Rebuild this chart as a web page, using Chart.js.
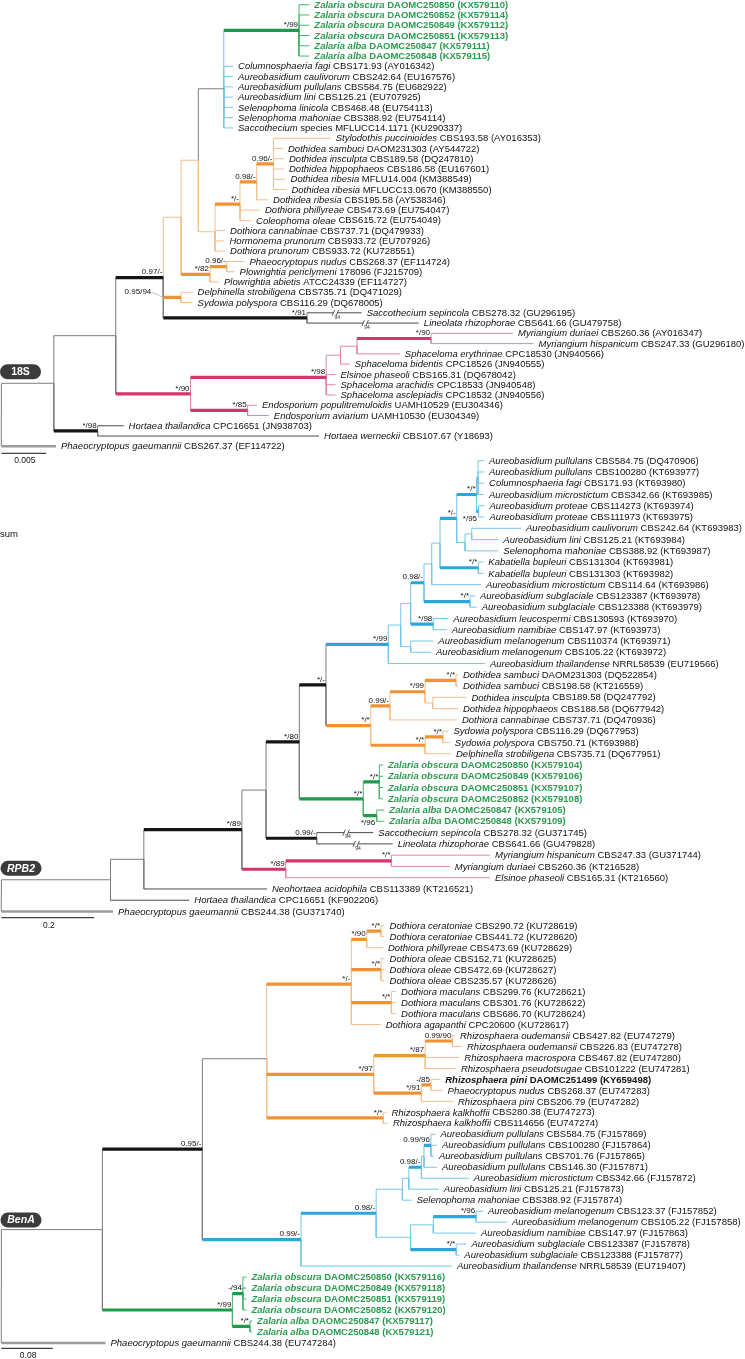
<!DOCTYPE html>
<html>
<head>
<meta charset="utf-8">
<title>Phylogenetic trees: 18S, RPB2, BenA</title>
<script src="https://cdn.jsdelivr.net/npm/chart.js@4.4.1/dist/chart.umd.min.js"></script>
<style>
html,body{margin:0;padding:0;background:#fff;}
#box{position:relative;width:745px;height:1359px;overflow:hidden;}
canvas{display:block;}
</style>
</head>
<body>
<div id="box"><canvas id="tree" width="745" height="1359"></canvas></div>
<script>
// ================= 18S =================
// taxon label: "italic part|roman part"
const taxa18S = [
"Zalaria obscura|DAOMC250850 (KX579110)","Zalaria obscura|DAOMC250852 (KX579114)",
"Zalaria obscura|DAOMC250849 (KX579112)","Zalaria obscura|DAOMC250851 (KX579113)",
"Zalaria alba|DAOMC250847 (KX579111)","Zalaria alba|DAOMC250848 (KX579115)",
"Columnosphaeria fagi|CBS171.93 (AY016342)","Aureobasidium caulivorum|CBS242.64 (EU167576)",
"Aureobasidium pullulans|CBS584.75 (EU682922)","Aureobasidium lini|CBS125.21 (EU707925)",
"Selenophoma linicola|CBS468.48 (EU754113)","Selenophoma mahoniae|CBS388.92 (EU754114)",
"Saccothecium|species MFLUCC14.1171 (KU290337)","Stylodothis puccinioides|CBS193.58 (AY016353)",
"Dothidea sambuci|DAOM231303 (AY544722)","Dothidea insculpta|CBS189.58 (DQ247810)",
"Dothidea hippophaeos|CBS186.58 (EU167601)","Dothidea ribesia|MFLU14.004 (KM388549)",
"Dothidea ribesia|MFLUCC13.0670 (KM388550)","Dothidea ribesia|CBS195.58 (AY538346)",
"Dothiora phillyreae|CBS473.69 (EU754047)","Coleophoma oleae|CBS615.72 (EU754049)",
"Dothiora cannabinae|CBS737.71 (DQ479933)","Hormonema prunorum|CBS933.72 (EU707926)",
"Dothiora prunorum|CBS933.72 (KU728551)","Phaeocryptopus nudus|CBS268.37 (EF114724)",
"Plowrightia periclymeni|178096 (FJ215709)","Plowrightia abietis|ATCC24339 (EF114727)",
"Delphinella strobiligena|CBS735.71 (DQ471029)","Sydowia polyspora|CBS116.29 (DQ678005)",
"Saccothecium sepincola|CBS278.32 (GU296195)","Lineolata rhizophorae|CBS641.66 (GU479758)",
"Myriangium duriaei|CBS260.36 (AY016347)","Myriangium hispanicum|CBS247.33 (GU296180)",
"Sphaceloma erythrinae|CPC18530 (JN940566)","Sphaceloma bidentis|CPC18526 (JN940555)",
"Elsinoe phaseoli|CBS165.31 (DQ678042)","Sphaceloma arachidis|CPC18533 (JN940548)",
"Sphaceloma asclepiadis|CPC18532 (JN940556)","Endosporium populitremuloidis|UAMH10529 (EU304346)",
"Endosporium aviarium|UAMH10530 (EU304349)","Hortaea thailandica|CPC16651 (JN938703)",
"Hortaea werneckii|CBS107.67 (Y18693)","Phaeocryptopus gaeumannii|CBS267.37 (EF114722)"
];
const tipParent18S = [8,8,8,8,8,8, 7,7,7,7,7,7,7, 12,12,12,12,12,12, 11, 10,10, 9,9,9, 14,14, 13, 15,15, 16,16, 21,21, 20, 19, 18,18,18, 22,22, 2,2, 0];
// distance from root (substitutions per site)
const tipDepth18S = [0.03437,0.03437,0.03437,0.03437,0.03437,0.03437,
 0.02585,0.02585,0.02585,0.02585,0.02585,0.02585,0.02585,
 0.03675,0.03143,0.03154,0.03154,0.03171,0.03181,0.02976,0.02886,0.02786,
 0.02496,0.02490,0.02496,0.02713,0.02602,0.02429,0.02134,0.02134,
 0.04021,0.04659,0.05710,0.05939,0.04447,0.03889,0.03729,0.03729,0.03729,
 0.02853,0.02985,0.01364,0.03545,0.00609];
// clades: Z = Zalaria, A = Aureobasidium group, D = Dothioraceae, E = Elsinoaceae/Myriangiaceae, '' = other
const tipClade18S = ['Z','Z','Z','Z','Z','Z','A','A','A','A','A','A','A',
 'D','D','D','D','D','D','D','D','D','D','D','D','D','D','D','D','D',
 '','','E','E','E','E','E','E','E','E','E','','',''];
const nodeParent18S = [-1,0,1,1,3,4,5,6,7,6,9,10,11,5,13,4,4,3,17,18,19,20,17];
const nodeDepth18S = [0,0.00585,0.01074,0.01276,0.01807,0.02005,0.02198,0.02482,0.03322,0.02384,
 0.02663,0.02849,0.03037,0.02328,0.02515,0.02005,0.03411,0.02111,0.03625,0.03785,0.03969,0.04795,0.02748];
const nodeSupport18S = ['','','*/98','','0.97/-','','','','*/99','','*/-','0.98/-','0.96/-','*/82',
 '0.96/-','0.95/94','*/91','*/90','*/98','','','*/90','*/85'];
const nodeClade18S = ['','','','','','D','D','','Z','D','D','D','D','D','D','D','','E','E','E','E','E','E'];
const crownClade18S = ['','','','','','D','D','A','Z','D','D','D','D','D','D','D','','E','E','E','E','E','E'];
const newIsolates18S = [0,1,2,3,4,5];
const truncated18S = [30,31];
const scaleBar18S = 0.005;

// ================= RPB2 =================
const taxaRPB2 = [
"Aureobasidium pullulans|CBS584.75 (DQ470906)","Aureobasidium pullulans|CBS100280 (KT693977)",
"Columnosphaeria fagi|CBS171.93 (KT693980)","Aureobasidium microstictum|CBS342.66 (KT693985)",
"Aureobasidium proteae|CBS114273 (KT693974)","Aureobasidium proteae|CBS111973 (KT693975)",
"Aureobasidium caulivorum|CBS242.64 (KT693983)","Aureobasidium lini|CBS125.21 (KT693984)",
"Selenophoma mahoniae|CBS388.92 (KT693987)","Kabatiella bupleuri|CBS131304 (KT693981)",
"Kabatiella bupleuri|CBS131303 (KT693982)","Aureobasidium microstictum|CBS114.64 (KT693986)",
"Aureobasidium subglaciale|CBS123387 (KT693978)","Aureobasidium subglaciale|CBS123388 (KT693979)",
"Aureobasidium leucospermi|CBS130593 (KT693970)","Aureobasidium namibiae|CBS147.97 (KT693973)",
"Aureobasidium melanogenum|CBS110374 (KT693971)","Aureobasidium melanogenum|CBS105.22 (KT693972)",
"Aureobasidium thailandense|NRRL58539 (EU719566)","Dothidea sambuci|DAOM231303 (DQ522854)",
"Dothidea sambuci|CBS198.58 (KT216559)","Dothidea insculpta|CBS189.58 (DQ247792)",
"Dothidea hippophaeos|CBS188.58 (DQ677942)","Dothiora cannabinae|CBS737.71 (DQ470936)",
"Sydowia polyspora|CBS116.29 (DQ677953)","Sydowia polyspora|CBS750.71 (KT693988)",
"Delphinella strobiligena|CBS735.71 (DQ677951)","Zalaria obscura|DAOMC250850 (KX579104)",
"Zalaria obscura|DAOMC250849 (KX579106)","Zalaria obscura|DAOMC250851 (KX579107)",
"Zalaria obscura|DAOMC250852 (KX579108)","Zalaria alba|DAOMC250847 (KX579105)",
"Zalaria alba|DAOMC250848 (KX579109)","Saccothecium sepincola|CBS278.32 (GU371745)",
"Lineolata rhizophorae|CBS641.66 (GU479828)","Myriangium hispanicum|CBS247.33 (GU371744)",
"Myriangium duriaei|CBS260.36 (KT216528)","Elsinoe phaseoli|CBS165.31 (KT216560)",
"Neohortaea acidophila|CBS113389 (KT216521)","Hortaea thailandica|CPC16651 (KF902206)",
"Phaeocryptopus gaeumannii|CBS244.38 (GU371740)"
];
const tipParentRPB2 = [15,15,15,15,16,16,18,18,17,19,19,11,20,20,21,21,22,22,7,26,26,27,27,24,29,29,28,31,31,31,31,32,32,33,33,35,35,34,2,1,0];
const tipDepthRPB2 = [1.0390,1.0390,1.0390,1.0390,1.0401,1.0401,1.1187,1.0698,1.0698,1.0375,1.0375,1.0325,
 1.0196,1.0233,0.9621,0.9587,0.9298,0.9249,1.0411,0.9830,0.9830,1.0011,0.9828,0.9806,0.9626,0.9654,0.9679,
 0.8216,0.8216,0.8216,0.8216,0.8244,0.8244,0.8007,0.8424,1.0519,0.9654,1.0519,0.5718,0.4045,0.2403];
const tipCladeRPB2 = ['A','A','A','A','A','A','A','A','A','A','A','A','A','A','A','A','A','A','A',
 'D','D','D','D','D','D','D','D','Z','Z','Z','Z','Z','Z','','','E','E','E','','',''];
const nodeParentRPB2 = [-1,0,1,2,3,4,5,6,7,8,9,10,11,12,13,14,14,13,17,12,10,9,8,6,23,24,25,25,23,28,5,30,30,4,3,34];
const nodeDepthRPB2 = [0,0.2349,0.3066,0.5178,0.5697,0.6414,0.6988,0.8330,0.8597,0.8812,0.9098,0.9264,0.9443,
 0.9802,1.0228,1.0261,1.0272,0.9981,1.0125,1.0267,1.0089,0.9298,0.8812,0.7951,0.8366,0.9120,0.9787,0.9286,
 0.9120,0.9505,0.7791,0.8136,0.8080,0.6788,0.6121,0.8396];
const nodeSupportRPB2 = ['','','','*/89','','*/80','*/-','*/99','','','0.98/-','','','*/-','*/*','','*/95','','',
 '*/*','*/*','*/98','','*/*','0.99/-','*/99','*/*','','*/*','*/*','*/*','*/*','*/96','0.99/-','*/89','*/*'];
const nodeCladeRPB2 = ['','','','','','','','A','A','A','A','A','A','A','A','A','A','A','A','A','A','A','A',
 'D','D','D','D','D','D','D','Z','Z','Z','','E','E'];
const crownCladeRPB2 = nodeCladeRPB2.slice();
const newIsolatesRPB2 = [27,28,29,30,31,32];
const truncatedRPB2 = [33,34];
const scaleBarRPB2 = 0.2;

// ================= BenA =================
const taxaBenA = [
"Dothiora ceratoniae|CBS290.72 (KU728619)","Dothiora ceratoniae|CBS441.72 (KU728620)",
"Dothiora phillyreae|CBS473.69 (KU728629)","Dothiora oleae|CBS152.71 (KU728625)",
"Dothiora oleae|CBS472.69 (KU728627)","Dothiora oleae|CBS235.57 (KU728626)",
"Dothiora maculans|CBS299.76 (KU728621)","Dothiora maculans|CBS301.76 (KU728622)",
"Dothiora maculans|CBS686.70 (KU728624)","Dothiora agapanthi|CPC20600 (KU728617)",
"Rhizosphaera oudemansii|CBS427.82 (EU747279)","Rhizosphaera oudemansii|CBS226.83 (EU747278)",
"Rhizosphaera macrospora|CBS467.82 (EU747280)","Rhizosphaera pseudotsugae|CBS101222 (EU747281)",
"Rhizosphaera pini|DAOMC251499 (KY659498)","Phaeocryptopus nudus|CBS268.37 (EU747283)",
"Rhizosphaera pini|CBS206.79 (EU747282)","Rhizosphaera kalkhoffii|CBS280.38 (EU747273)",
"Rhizosphaera kalkhoffii|CBS114656 (EU747274)","Aureobasidium pullulans|CBS584.75 (FJ157869)",
"Aureobasidium pullulans|CBS100280 (FJ157864)","Aureobasidium pullulans|CBS701.76 (FJ157865)",
"Aureobasidium pullulans|CBS146.30 (FJ157871)","Aureobasidium microstictum|CBS342.66 (FJ157872)",
"Aureobasidium lini|CBS125.21 (FJ157873)","Selenophoma mahoniae|CBS388.92 (FJ157874)",
"Aureobasidium melanogenum|CBS123.37 (FJ157852)","Aureobasidium melanogenum|CBS105.22 (FJ157858)",
"Aureobasidium namibiae|CBS147.97 (FJ157863)","Aureobasidium subglaciale|CBS123387 (FJ157878)",
"Aureobasidium subglaciale|CBS123388 (FJ157877)","Aureobasidium thailandense|NRRL58539 (EU719407)",
"Zalaria obscura|DAOMC250850 (KX579116)","Zalaria obscura|DAOMC250849 (KX579118)",
"Zalaria obscura|DAOMC250851 (KX579119)","Zalaria obscura|DAOMC250852 (KX579120)",
"Zalaria alba|DAOMC250847 (KX579117)","Zalaria alba|DAOMC250848 (KX579121)",
"Phaeocryptopus gaeumannii|CBS244.38 (EU747284)"
];
const tipParentBenA = [6,6,5,7,7,7,8,8,8,4,11,11,10,10,13,13,12,14,14,19,19,19,28,18,27,17,22,22,21,23,23,15,25,25,25,25,26,26,0];
const tipDepthBenA = [0.5963,0.5963,0.5939,0.5963,0.5963,0.5963,0.6142,0.6142,0.6142,0.5903,0.7060,0.7169,
 0.7127,0.7075,0.6830,0.6867,0.7029,0.5992,0.6016,0.6756,0.6780,0.6733,0.6780,0.7275,0.6808,0.6386,0.7496,
 0.7869,0.7387,0.7237,0.7127,0.7013,0.3813,0.3813,0.3813,0.3813,0.3902,0.3902,0.1620];
const tipCladeBenA = ['D','D','D','D','D','D','D','D','D','D','D','D','D','D','D','D','D','D','D',
 'A','A','A','A','A','A','A','A','A','A','A','A','A','Z','Z','Z','Z','Z','Z',''];
const nodeParentBenA = [-1,0,1,2,3,4,5,4,4,3,9,10,9,12,3,2,15,16,27,28,16,20,21,20,1,24,24,17,18];
const nodeDepthBenA = [0,0.1572,0.3128,0.4129,0.5447,0.5686,0.5908,0.5908,0.6070,0.5796,0.6596,0.7019,0.6537,
 0.6686,0.5944,0.4663,0.5833,0.6241,0.6537,0.6686,0.6367,0.6722,0.7390,0.7079,0.3595,0.3759,0.3869,0.6342,0.6577];
const nodeSupportBenA = ['','','0.95/-','','*/-','*/90','*/*','*/*','*/*','*/97','*/87','0.99/90','*/91','-/85',
 '*/*','0.99/-','0.98/-','','0.98/-','0.99/96','','','*/96','*/*','*/99','-/94','*/*','',''];
const nodeCladeBenA = ['','','','','D','D','D','D','D','D','D','D','D','D','D','A','A','A','A','A','A','A','A','A','Z','Z','Z','A','A'];
const crownCladeBenA = ['','','','D','D','D','D','D','D','D','D','D','D','D','D','A','A','A','A','A','A','A','A','A','Z','Z','Z','A','A'];
const newIsolatesBenA = [14,32,33,34,35,36,37];
const truncatedBenA = [];
const scaleBarBenA = 0.08;

// ================= presentation =================
const TREES = [
 {id:'s', name:'18S', taxa:taxa18S, tipParent:tipParent18S, tipDepth:tipDepth18S, tipClade:tipClade18S,
  nodeParent:nodeParent18S, nodeDepth:nodeDepth18S, nodeSupport:nodeSupport18S, nodeClade:nodeClade18S,
  crownClade:crownClade18S, newIsolates:newIsolates18S, truncated:truncated18S, bar:scaleBar18S},
 {id:'r', name:'RPB2', taxa:taxaRPB2, tipParent:tipParentRPB2, tipDepth:tipDepthRPB2, tipClade:tipCladeRPB2,
  nodeParent:nodeParentRPB2, nodeDepth:nodeDepthRPB2, nodeSupport:nodeSupportRPB2, nodeClade:nodeCladeRPB2,
  crownClade:crownCladeRPB2, newIsolates:newIsolatesRPB2, truncated:truncatedRPB2, bar:scaleBarRPB2},
 {id:'b', name:'BenA', taxa:taxaBenA, tipParent:tipParentBenA, tipDepth:tipDepthBenA, tipClade:tipCladeBenA,
  nodeParent:nodeParentBenA, nodeDepth:nodeDepthBenA, nodeSupport:nodeSupportBenA, nodeClade:nodeCladeBenA,
  crownClade:crownCladeBenA, newIsolates:newIsolatesBenA, truncated:truncatedBenA, bar:scaleBarBenA}
];
const LAYOUT = {
 s:{y0:4.7, dy:10.27, x0:1.4, barPx:44.8, barOff:0.68, badge:{cx:20.5, cy:371.7, italic:false},
    special:{15:'lead'}},
 r:{y0:460.7, dy:11.27, x0:1.4, barPx:92.9, barOff:0.55, badge:{cx:21, cy:868.3, italic:true},
    special:{16:'below', 32:'below'}},
 b:{y0:925.7, dy:10.98, x0:1.4, barPx:51.4, barOff:0.49, badge:{cx:21, cy:1220, italic:true},
    special:{}}
};
const W = 745, H = 1359;
const COL = {'':['#7d7d7d','#151515'], A:['#74c7ea','#2ca6dc'], Z:['#4cb26d','#1f9a4b'],
             D:['#f7bd88','#ef9234'], E:['#e385a9','#d3356f']};
const LEAF_PLAIN = '#4a4a4a', OUTGROUP = '#9c9c9c', GREEN_TEXT = '#2a9c4f';
const FONT = '"Liberation Sans", Arial, sans-serif';

function layoutTree(T){
  const nN = T.nodeParent.length;
  const kids = Array.from({length:nN}, () => []);
  T.nodeParent.forEach((p,i) => { if (p >= 0) kids[p].push({leaf:false, i}); });
  T.tipParent.forEach((p,i) => kids[p].push({leaf:true, i}));
  const ny = new Array(nN).fill(null);
  const getY = n => {
    if (ny[n] === null) {
      const ys = kids[n].map(c => c.leaf ? c.i : getY(c.i));
      ny[n] = ys.reduce((a,b) => a + b, 0) / ys.length;
    }
    return ny[n];
  };
  for (let i = 0; i < nN; i++) getY(i);
  return ny;
}

const datasets = [];
const groups = new Map();
function addSeg(tid, color, width, order, pts){
  const key = tid + '|' + color + '|' + width;
  if (!groups.has(key)) {
    const ds = {type:'line', label:key, data:[], borderColor:color, borderWidth:width,
      pointRadius:0, pointHoverRadius:0, fill:false, tension:0, spanGaps:false,
      borderCapStyle:'butt', borderJoinStyle:'miter', xAxisID:'x'+tid, yAxisID:'y'+tid, order};
    groups.set(key, ds); datasets.push(ds);
  }
  const d = groups.get(key).data;
  pts.forEach(p => d.push(p));
  d.push({x: pts[pts.length-1].x, y: null});
}

const scales = {};
TREES.forEach(T => {
  const L = LAYOUT[T.id];
  const k = T.bar / L.barPx;                 // substitutions per pixel
  scales['x'+T.id] = {type:'linear', display:false, bounds:'data', min:-L.x0*k, max:-L.x0*k + W*k};
  scales['y'+T.id] = {type:'linear', display:false, reverse:true, bounds:'data',
                      min:-L.y0/L.dy, max:-L.y0/L.dy + H/L.dy};
  const ny = layoutTree(T);
  T.nodeY = ny;
  // internal branches
  T.nodeParent.forEach((p,i) => {
    if (p < 0) return;
    const thick = T.nodeSupport[i] !== '';
    const c = COL[T.nodeClade[i]];
    const vcol = thick ? COL[T.crownClade[p]][0] : c[0];
    addSeg(T.id, vcol, 1, 3, [{x:T.nodeDepth[p], y:ny[p]}, {x:T.nodeDepth[p], y:ny[i]}]);
    addSeg(T.id, thick ? c[1] : c[0], thick ? 3.2 : 1, thick ? 0 : 2,
           [{x:T.nodeDepth[p], y:ny[i]}, {x:T.nodeDepth[i], y:ny[i]}]);
  });
  // terminal branches
  T.tipParent.forEach((p,i) => {
    const out = T.nodeParent[p] < 0;
    const cl = T.tipClade[i];
    const col = out ? OUTGROUP : (cl === '' ? LEAF_PLAIN : COL[cl][0]);
    addSeg(T.id, out ? OUTGROUP : (cl === '' ? COL[''][0] : COL[cl][0]), 1, 3,
           [{x:T.nodeDepth[p], y:ny[p]}, {x:T.nodeDepth[p], y:i}]);
    addSeg(T.id, col, out ? 2.4 : 1, 2, [{x:T.nodeDepth[p], y:i}, {x:T.tipDepth[i], y:i}]);
  });
});

const textPlugin = {
  id:'treeText',
  afterDraw(chart){
    const ctx = chart.ctx;
    ctx.save();
    TREES.forEach(T => {
      const L = LAYOUT[T.id];
      const xs = chart.scales['x'+T.id], ys = chart.scales['y'+T.id];
      const X = v => xs.getPixelForValue(v), Y = v => ys.getPixelForValue(v);
      // truncated-branch marks
      T.truncated.forEach(i => {
        const p = T.tipParent[i];
        const xm = X(T.nodeDepth[p]) + 0.52*(X(T.tipDepth[i]) - X(T.nodeDepth[p]));
        const y = Y(i);
        ctx.fillStyle = '#fff'; ctx.fillRect(xm-2, y-2, 4, 4);
        ctx.strokeStyle = '#333'; ctx.lineWidth = 0.8;
        ctx.beginPath();
        ctx.moveTo(xm-3.2, y+3); ctx.lineTo(xm-0.8, y-3);
        ctx.moveTo(xm+0.8, y+3); ctx.lineTo(xm+3.2, y-3);
        ctx.stroke();
        ctx.font = '5px ' + FONT; ctx.fillStyle = '#333'; ctx.textAlign = 'left'; ctx.textBaseline = 'middle';
        ctx.fillText('94', xm-1, y+4.5);
      });
      // taxon labels
      ctx.textBaseline = 'middle'; ctx.textAlign = 'left';
      T.taxa.forEach((name,i) => {
        const parts = name.split('|');
        const bold = T.newIsolates.includes(i);
        ctx.fillStyle = T.tipClade[i] === 'Z' ? GREEN_TEXT : '#111';
        let x = X(T.tipDepth[i]) + 5;
        const y = Y(i) + 0.5;
        ctx.font = 'italic ' + (bold ? 'bold ' : '') + '9.5px ' + FONT;
        ctx.fillText(parts[0], x, y);
        x += ctx.measureText(parts[0]).width;
        ctx.font = (bold ? 'bold ' : '') + '9.5px ' + FONT;
        ctx.fillText(' ' + parts[1], x, y);
      });
      // support values
      ctx.font = '8px ' + FONT; ctx.fillStyle = '#111'; ctx.textAlign = 'right';
      T.nodeSupport.forEach((s,i) => {
        if (!s) return;
        const p = T.nodeParent[i];
        const xn = X(T.nodeDepth[i]), yn = Y(T.nodeY[i]);
        const mode = L.special[i];
        if (mode === 'lead') {
          const xp = X(T.nodeDepth[p]);
          ctx.fillText(s, xp - 12, yn - 6);
          ctx.strokeStyle = '#999'; ctx.lineWidth = 0.6;
          ctx.beginPath(); ctx.moveTo(xp - 11, yn - 5); ctx.lineTo(xp, yn); ctx.stroke();
        } else if (mode === 'below') {
          ctx.fillText(s, xn - 1.5, yn + 7);
        } else {
          ctx.fillText(s, xn - 1, yn - 5.5);
        }
      });
      // scale bar
      const yb = Y(T.taxa.length - 1 + L.barOff);
      const xb0 = X(0), xb1 = X(T.bar);
      ctx.strokeStyle = '#111'; ctx.lineWidth = 1;
      ctx.beginPath(); ctx.moveTo(xb0, yb); ctx.lineTo(xb1, yb); ctx.stroke();
      ctx.font = '8.5px ' + FONT; ctx.textAlign = 'center'; ctx.fillStyle = '#111';
      ctx.fillText(String(T.bar), (xb0 + xb1)/2 + 1, yb + 7.5);
      // gene badge
      const bd = L.badge, bw = 41, bh = 15;
      ctx.fillStyle = '#3b3b3b';
      ctx.beginPath();
      ctx.roundRect(bd.cx - bw/2, bd.cy - bh/2, bw, bh, bh/2);
      ctx.fill();
      ctx.fillStyle = '#fff'; ctx.textAlign = 'center'; ctx.textBaseline = 'middle';
      ctx.font = (bd.italic ? 'italic ' : '') + 'bold 10.5px ' + FONT;
      ctx.fillText(T.name, bd.cx, bd.cy + 0.5);
    });
    // stray text fragment present in the figure
    ctx.font = '9.5px ' + FONT; ctx.fillStyle = '#111'; ctx.textAlign = 'left'; ctx.textBaseline = 'middle';
    ctx.fillText('sum', 0, 534);
    ctx.restore();
  }
};

new Chart(document.getElementById('tree'), {
  type:'line',
  data:{datasets},
  options:{
    responsive:false, maintainAspectRatio:false, animation:false, devicePixelRatio:1,
    events:[], layout:{padding:0},
    plugins:{legend:{display:false}, tooltip:{enabled:false}, title:{display:false}},
    scales
  },
  plugins:[textPlugin]
});
</script>
</body>
</html>
